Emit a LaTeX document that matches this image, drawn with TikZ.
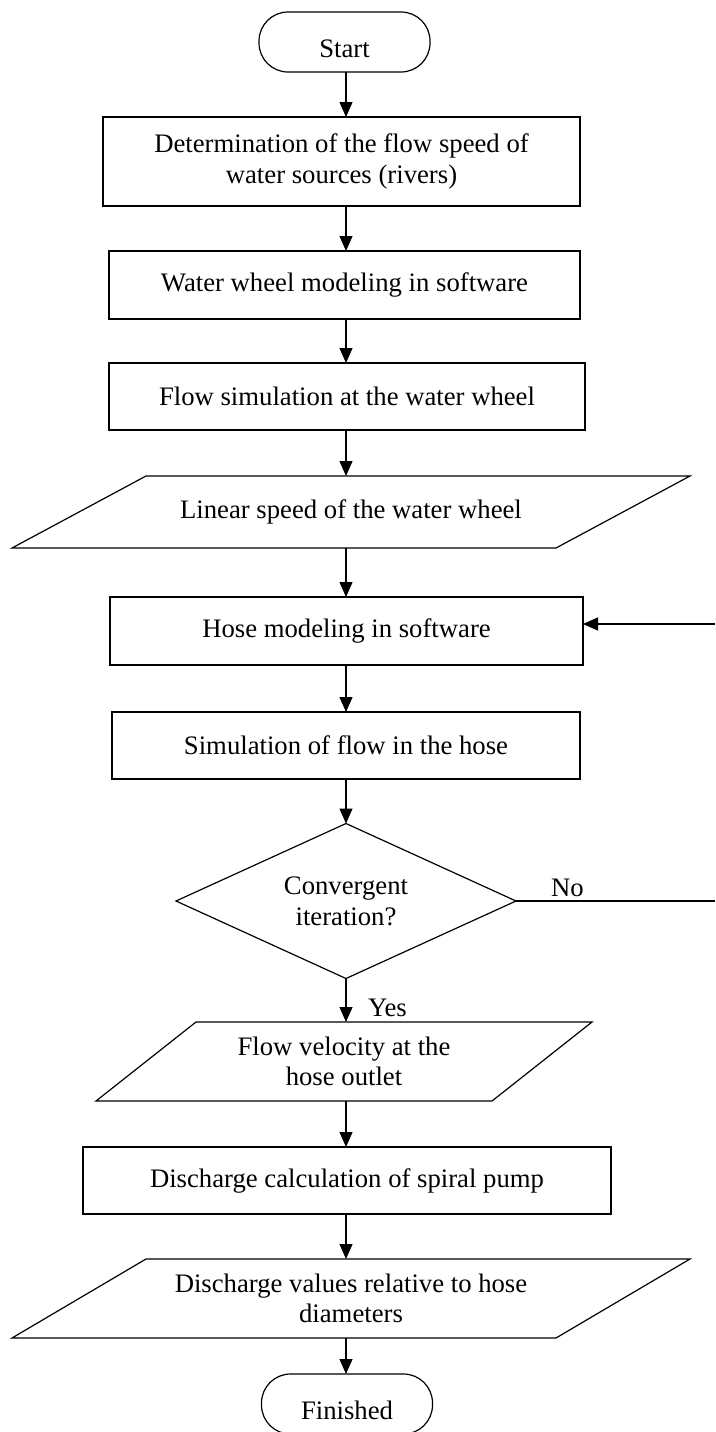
\documentclass[tikz,border=0pt]{standalone}
\usepackage{fontspec}
\setmainfont{Liberation Serif}
\usetikzlibrary{shapes.geometric,arrows.meta,calc}
\begin{document}
\begin{tikzpicture}[x=1pt,y=-1pt,
  font=\fontsize{26.7}{30.7}\selectfont,
  every node/.style={inner sep=0pt, outer sep=0pt},
  lw/.style={line width=1.2pt},
  proc/.style={draw, lw, rectangle, align=center},
  term/.style={draw, lw, rectangle, rounded corners=29pt, minimum width=171pt, minimum height=60pt, text height=30pt, text depth=0pt},
  decide/.style={draw, lw, diamond, aspect=2.2, align=center, minimum width=340pt, minimum height=155pt},
  io/.style={rectangle, align=center},
  outline/.style={draw, lw},
  arr/.style={lw, -{Triangle[width=13pt,length=15pt]}},
  plain/.style={lw}]
\useasboundingbox (0,0) rectangle (715,1432);
\coordinate (axis) at (346,0);

\node[term] (start) at (344.5,42) {Start};
\node[proc, minimum width=477pt, minimum height=89pt] (b1) at (341.5,161.5) {Determination of the flow speed of\\water sources (rivers)};
\node[proc, minimum width=471pt, minimum height=68pt] (b2) at (344.5,285) {Water wheel modeling in software};
\node[proc, minimum width=476pt, minimum height=67pt] (b3) at (347,396.5) {Flow simulation at the water wheel};
\node[io, minimum width=678pt, minimum height=72pt] (p1) at (351,512) {Linear speed of the water wheel};
\node[proc, minimum width=473pt, minimum height=68pt] (hose) at (346.5,631) {Hose modeling in software};
\node[proc, minimum width=468pt, minimum height=67pt] (b5) at (346,745.5) {Simulation of flow in the hose};
\node[decide] (dec) at (346,901) {Convergent\\iteration?};
\node[io, minimum width=496pt, minimum height=79pt] (p2) at (344,1061.5) {Flow velocity at the\\hose outlet};
\node[proc, minimum width=528pt, minimum height=67pt] (b6) at (347,1180.5) {Discharge calculation of spiral pump};
\node[io, minimum width=678pt, minimum height=79pt] (p3) at (351,1298.5) {Discharge values relative to hose\\diameters};
\node[term] (fin) at (347,1404) {Finished};

% parallelogram outlines
\draw[outline] ($(p1.north west)+(134,0)$) -- (p1.north east) -- ($(p1.south east)-(134,0)$) -- (p1.south west) -- cycle;
\draw[outline] ($(p2.north west)+(100,0)$) -- (p2.north east) -- ($(p2.south east)-(100,0)$) -- (p2.south west) -- cycle;
\draw[outline] ($(p3.north west)+(134,0)$) -- (p3.north east) -- ($(p3.south east)-(134,0)$) -- (p3.south west) -- cycle;

% labels
\node[anchor=west] (yes) at (368,1008) {Yes};
\node[anchor=south west] (no) at (551,897) {No};

% edge coordinates
\coordinate (eR1) at (715,624);
\coordinate (eR2) at (715,901);

% connectors
\draw[arr] (start.south -| axis) -- (b1.north -| axis);
\draw[arr] (b1.south -| axis) -- (b2.north -| axis);
\draw[arr] (b2.south -| axis) -- (b3.north -| axis);
\draw[arr] (b3.south -| axis) -- (p1.north -| axis);
\draw[arr] (p1.south -| axis) -- (hose.north -| axis);
\draw[arr] (hose.south -| axis) -- (b5.north -| axis);
\draw[arr] (b5.south -| axis) -- (dec.north);
\draw[arr] (dec.south) -- (p2.north -| dec.south);
\draw[arr] (p2.south -| axis) -- (b6.north -| axis);
\draw[arr] (b6.south -| axis) -- (p3.north -| axis);
\draw[arr] (p3.south -| axis) -- (fin.north -| axis);
\draw[plain] (dec.east) -- (eR2);
\draw[arr] (eR1) -- (eR1 -| hose.east);
\end{tikzpicture}
\end{document}
